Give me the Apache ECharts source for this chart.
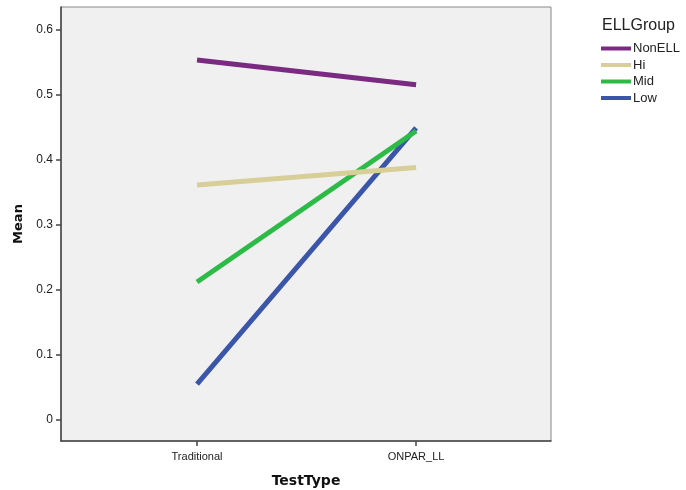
<!DOCTYPE html>
<html><head><meta charset="utf-8">
<script src="https://cdn.jsdelivr.net/npm/echarts@6/dist/echarts.min.js"></script>
<style>html,body{margin:0;padding:0;background:#fff}#c{width:686px;height:490px}</style>
</head><body><div id="c"></div>
<script>
var categories = ['Traditional', 'ONPAR_LL'];
var groups = ['NonELL', 'Hi', 'Mid', 'Low'];
var nonELL = [0.553, 0.515];
var hi = [0.361, 0.388];
var mid = [0.212, 0.444];
var low = [0.055, 0.449];
var yTicks = [0, 0.1, 0.2, 0.3, 0.4, 0.5, 0.6];
var colors = ['#7B2A82', '#D7CE98', '#2DBB48', '#3B55A8'];
var values = [nonELL, hi, mid, low];
var xPos = [1, 2];

var series = groups.map(function (g, i) {
  return {
    name: g, type: 'line', showSymbol: false, symbol: 'none',
    lineStyle: { width: 5, color: colors[i] }, itemStyle: { color: colors[i] },
    data: values[i].map(function (v, j) { return [xPos[j], v]; }),
    z: 10 - i
  };
});

var chart = echarts.init(document.getElementById('c'));
chart.setOption({
  animation: false,
  backgroundColor: '#fff',
  grid: { left: 61, top: 7, width: 490, height: 434, outerBoundsMode: 'none', containLabel: false, show: true, backgroundColor: '#f0f0f0', borderColor: '#888', borderWidth: 1 },
  title: { text: 'ELLGroup', left: 597, top: 13, textStyle: { fontFamily: 'Liberation Sans, Arial, sans-serif', fontSize: 16, fontWeight: 'normal', color: '#222' } },
  legend: {
    orient: 'vertical', left: 596, top: 37, itemWidth: 30, itemHeight: 4, itemGap: 3.5,
    icon: 'rect', data: groups,
    textStyle: { fontFamily: 'Liberation Sans, Arial, sans-serif', fontSize: 13, color: '#222', padding: [0, 0, 0, -3] }
  },
  xAxis: {
    type: 'value', min: 0.379, max: 2.616,
    name: 'TestType', nameLocation: 'middle', nameGap: 33,
    nameTextStyle: { fontFamily: 'DejaVu Sans, sans-serif', fontSize: 14, fontWeight: 'bold', color: '#111' },
    splitLine: { show: false },
    axisLine: { show: true, onZero: false, lineStyle: { color: '#444', width: 1.5 } },
    axisTick: { show: true, customValues: xPos, length: 5, lineStyle: { color: '#444', width: 1.5 } },
    axisLabel: { customValues: xPos, margin: 10, color: '#222', fontFamily: 'Liberation Sans, Arial, sans-serif', fontSize: 11,
      formatter: function (v) { return categories[Math.round(v) - 1]; } }
  },
  yAxis: {
    type: 'value', min: -0.0323, max: 0.6346,
    name: 'Mean', nameLocation: 'middle', nameGap: 36, nameRotate: 90,
    nameTextStyle: { fontFamily: 'DejaVu Sans, sans-serif', fontSize: 13, fontWeight: 'bold', color: '#111' },
    splitLine: { show: false },
    axisLine: { show: true, onZero: false, lineStyle: { color: '#444', width: 1.5 } },
    axisTick: { show: true, customValues: yTicks, length: 5, lineStyle: { color: '#444', width: 1.5 } },
    axisLabel: { customValues: yTicks, margin: 8, color: '#222', fontFamily: 'Liberation Sans, Arial, sans-serif', fontSize: 12,
      formatter: function (v) { return v === 0 ? '0' : v.toFixed(1); } }
  },
  series: series
});
</script></body></html>
